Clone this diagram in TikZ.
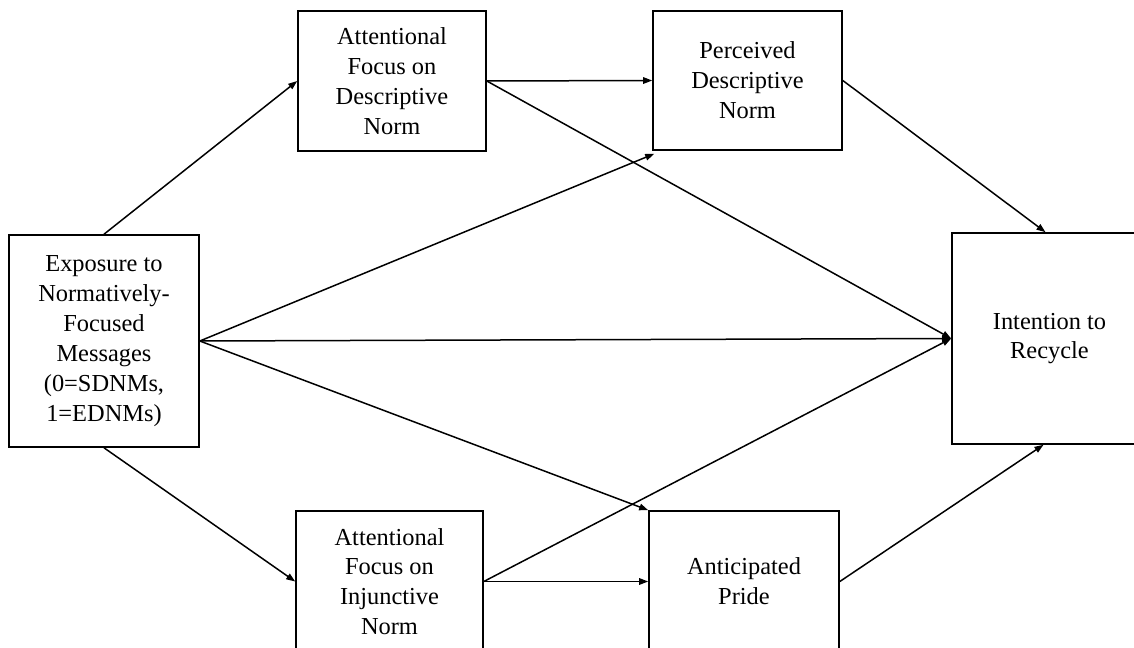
\documentclass[tikz,border=0pt]{standalone}
\usepackage{fontspec}
\setmainfont{Liberation Serif}
\usetikzlibrary{arrows.meta,calc}
\begin{document}
\begin{tikzpicture}[x=1bp,y=-1bp,
  box/.style={draw,line width=1.6bp,align=center,inner sep=0pt,
    font=\fontsize{24.5}{30}\selectfont},
  arr/.style={line width=1.5bp,-{Triangle[length=9bp,width=6.5bp]}}]
\useasboundingbox (0,0) rectangle (1134,648);
\clip (0,0) rectangle (1134,648);
\fill[white] (0,0) rectangle (1134,648);
\node[box,minimum width=190bp,minimum height=212bp] (exp) at (104,341)
  {Exposure to\\Normatively-\\Focused\\Messages\\(0=SDNMs,\\1=EDNMs)};
\node[box,minimum width=188bp,minimum height=140bp] (afdn) at (392,81)
  {Attentional\\Focus on\\Descriptive\\Norm};
\node[box,minimum width=189bp,minimum height=139bp] (pdn) at (747.5,80.5)
  {Perceived\\Descriptive\\Norm};
\node[box,minimum width=195bp,minimum height=211bp] (ir) at (1049.5,338.5)
  {Intention to\\Recycle};
\node[box,minimum width=187bp,minimum height=141bp] (afin) at (389.5,581.5)
  {Attentional\\Focus on\\Injunctive\\Norm};
\node[box,minimum width=190bp,minimum height=141bp] (ap) at (744,581.5)
  {Anticipated\\Pride};
\draw[arr] (exp.north) -- (afdn.west);
\draw[arr] (afdn.east) -- (pdn.west);
\draw[arr] (afdn.east) -- (ir.west);
\draw[arr] (exp.east) -- ($(pdn.south west)+(2,3)$);
\draw[arr] (exp.east) -- (ir.west);
\draw[arr] (exp.east) -- (ap.north west);
\draw[arr] (exp.south) -- (afin.west);
\draw[arr] (afin.east) -- (ap.west);
\draw[arr] (afin.east) -- (ir.west);
\draw[arr] (pdn.east) -- ($(ir.north)+(-4,0)$);
\draw[arr] (ap.east) -- ($(ir.south)+(-6,0)$);
\end{tikzpicture}
\end{document}
